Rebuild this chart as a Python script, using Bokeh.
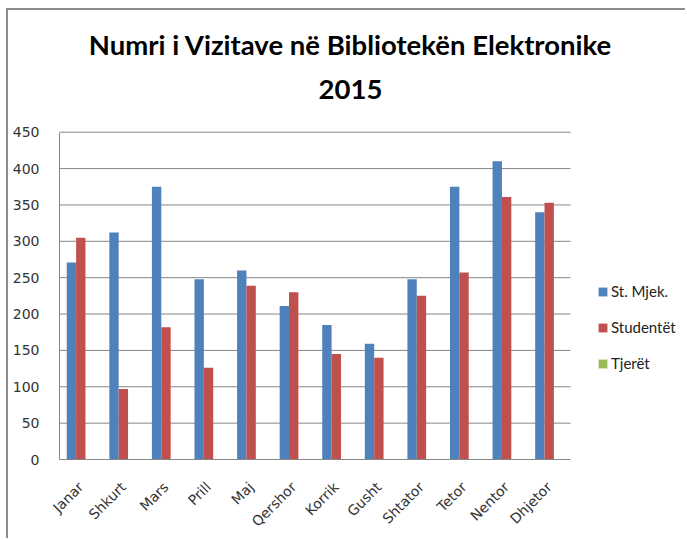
import math
from bokeh.plotting import figure
from bokeh.models import (ColumnDataSource, Range1d, Legend, LegendItem, Label,
                          FixedTicker)
from bokeh.transform import dodge
from bokeh.embed import file_html
from bokeh.resources import INLINE

months = ["Janar", "Shkurt", "Mars", "Prill", "Maj", "Qershor", "Korrik",
          "Gusht", "Shtator", "Tetor", "Nentor", "Dhjetor"]
st_mjek = [271, 312, 375, 248, 260, 211, 185, 159, 248, 375, 410, 340]
studentet = [305, 97, 182, 126, 239, 230, 145, 140, 225, 257, 361, 353]
tjeret = [0, 0, 0, 0, 0, 0, 0, 0, 0, 0, 0, 0]
y_ticks = [0, 50, 100, 150, 200, 250, 300, 350, 400, 450]

title_line1 = "Numri i Vizitave në Bibliotekën Elektronike"
title_line2 = "2015"

idx = list(range(len(months)))
src = ColumnDataSource(data=dict(xi=idx, mjek=st_mjek, stud=studentet, tj=tjeret))

# layout (pixels)
W, H = 685, 538
FL, FB, PT, PR = 59, 460, 132, 570      # frame left/bottom, plot-area top/right
n = len(months)
px_per_cat = (PR - FL) / n
x_end = -0.5 + (W - FL) / px_per_cat
y_end = y_ticks[-1] * FB / (FB - PT)

p = figure(width=W, height=H, x_range=Range1d(-0.5, x_end), y_range=Range1d(0, y_end),
           output_backend="svg", toolbar_location=None,
           min_border_left=FL, min_border_right=0, min_border_top=0,
           min_border_bottom=H - FB)
p.outline_line_color = None
p.border_fill_alpha = 0
p.background_fill_alpha = 0
p.styles = {
    "background-image": "linear-gradient(#8c8c8c, #8c8c8c), linear-gradient(#8c8c8c, #8c8c8c)",
    "background-size": "2px 100%, 100% 2px",
    "background-position": "6px 8px, 6px 8px",
    "background-repeat": "no-repeat",
}
p.xgrid.grid_line_color = None
p.ygrid.grid_line_color = None

# horizontal grid lines restricted to the plot area
p.segment(x0=-0.5, x1=n - 0.5, y0=y_ticks[1:], y1=y_ticks[1:],
          line_color="#868686", line_width=1, level="underlay")

bw = 0.22
r1 = p.vbar(x=dodge("xi", -bw), top="mjek", width=bw, source=src,
            fill_color="#4F81BD", line_color=None)
r2 = p.vbar(x=dodge("xi", 0), top="stud", width=bw, source=src,
            fill_color="#C0504D", line_color=None)
r3 = p.vbar(x=dodge("xi", bw), top="tj", width=bw, source=src,
            fill_color="#9BBB59", line_color=None)

p.yaxis.ticker = FixedTicker(ticks=y_ticks)
p.xaxis.ticker = FixedTicker(ticks=idx)
p.xaxis.major_label_overrides = {i: m for i, m in zip(idx, months)}
p.yaxis.bounds = (0, y_ticks[-1])
p.xaxis.bounds = (-0.5, n - 0.5)
for ax in (p.xaxis[0], p.yaxis[0]):
    ax.axis_line_color = "#868686"
    ax.major_tick_line_color = None
    ax.minor_tick_line_color = None
    ax.major_label_text_font = "DejaVu Sans"
    ax.major_label_text_font_size = "14px"
    ax.major_label_text_color = "#333333"
p.yaxis.major_label_standoff = 14
p.xaxis.major_label_orientation = math.pi / 4
p.xaxis.major_label_standoff = 19

legend = Legend(items=[LegendItem(label="St. Mjek.", renderers=[r1]),
                       LegendItem(label="Studentët", renderers=[r2]),
                       LegendItem(label="Tjerët", renderers=[r3])],
                location=(538, 87), orientation="vertical",
                glyph_width=11, glyph_height=11, label_standoff=3,
                label_height=18, spacing=18, padding=0, margin=0,
                border_line_color=None, background_fill_alpha=0,
                label_text_font="Lato", label_text_font_size="15px",
                label_text_color="#222222")
p.add_layout(legend, "center")

for txt, yy in ((title_line1, FB - 45), (title_line2, FB - 90)):
    p.add_layout(Label(x=350 - FL, y=yy, x_units="screen", y_units="screen", text=txt,
                       text_align="center", text_baseline="alphabetic",
                       text_font="Lato", text_font_style="bold",
                       text_font_size="27.5px", text_color="#000000"))

open("out.html", "w").write(file_html(p, INLINE))
